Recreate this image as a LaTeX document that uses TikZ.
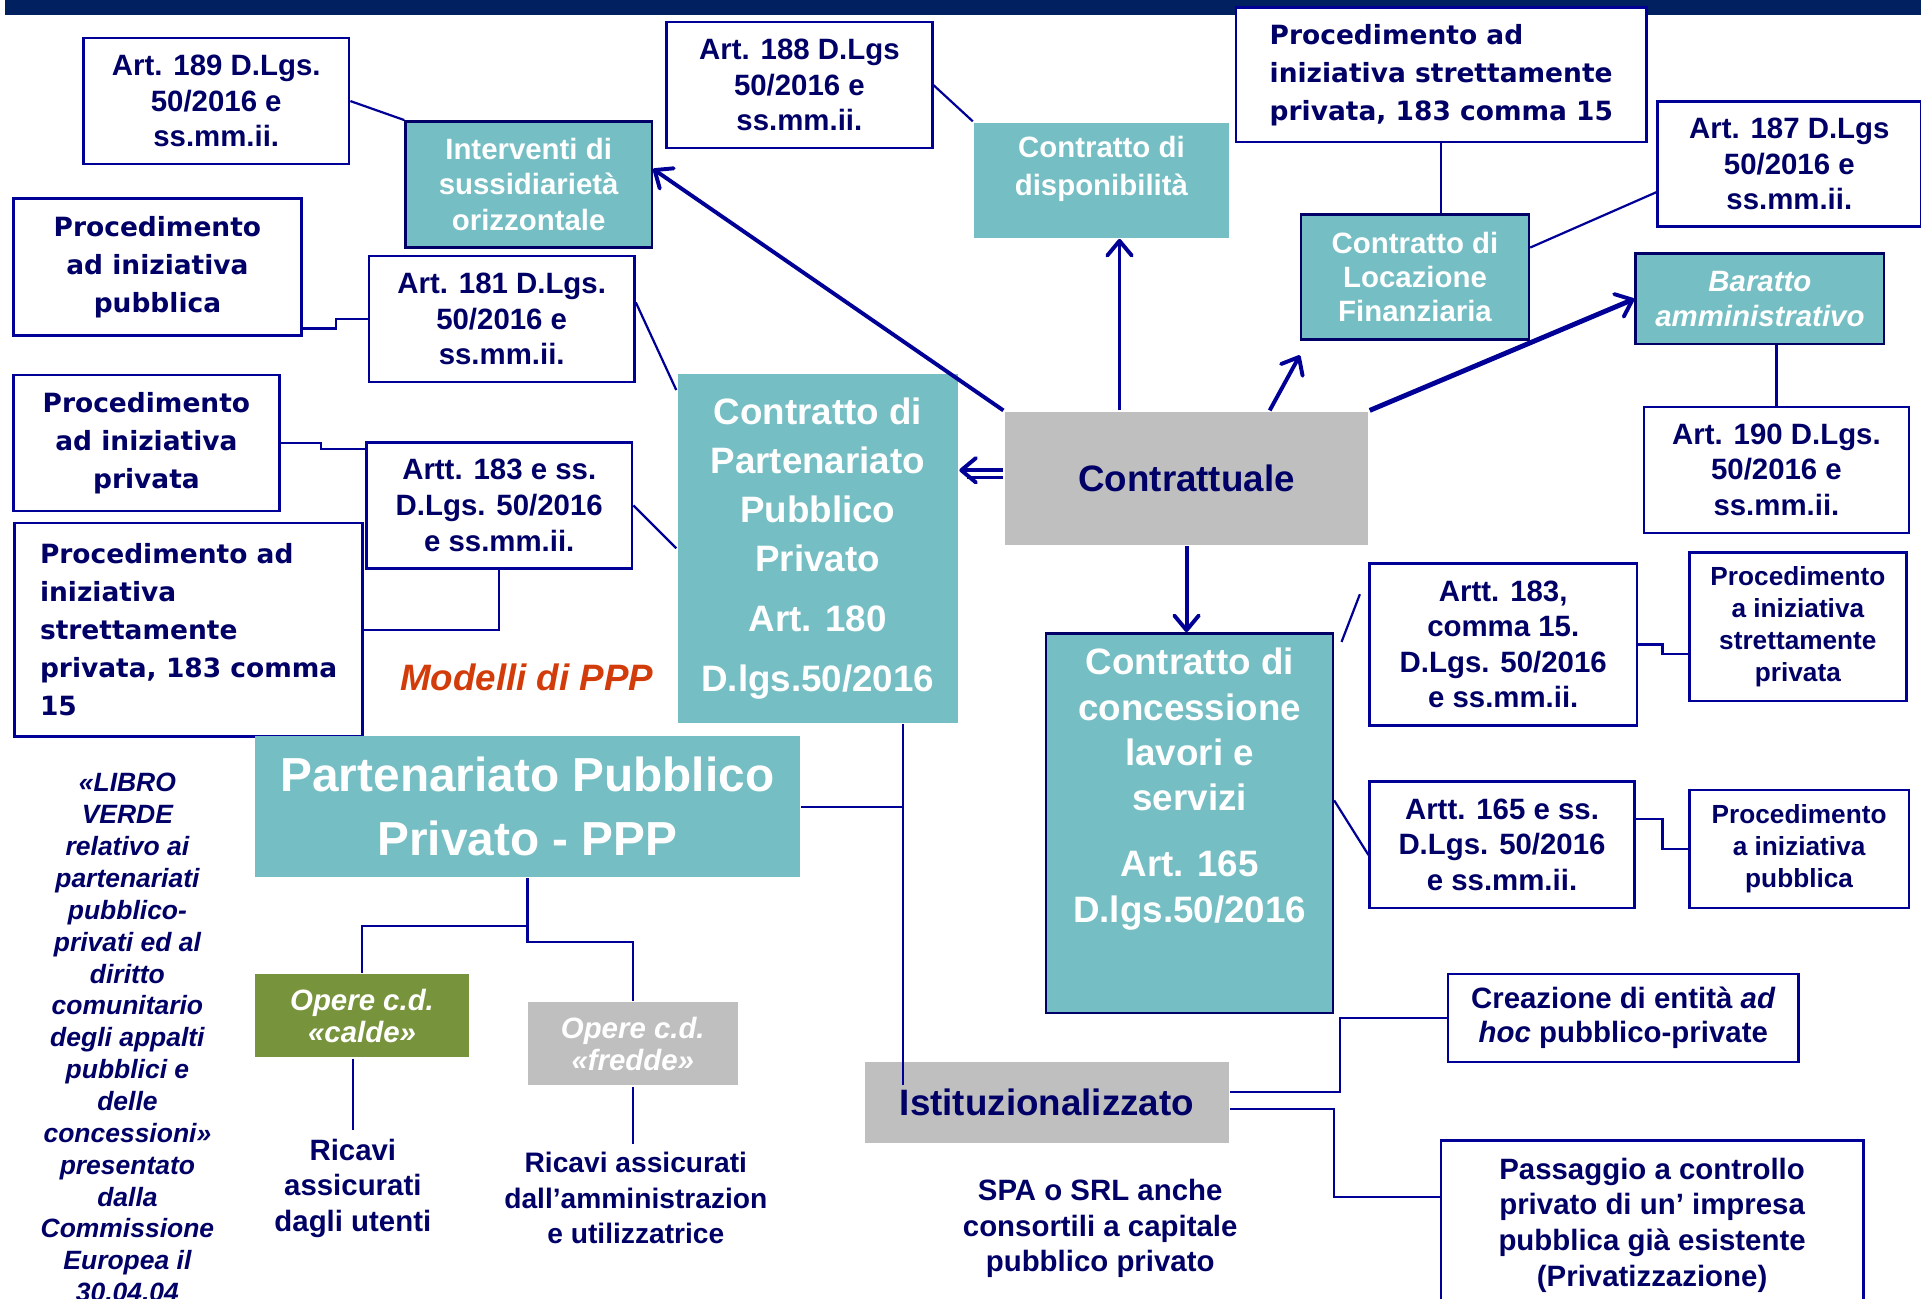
\documentclass[tikz,border=0pt]{standalone}
\usepackage{fontspec}
\setmainfont{Liberation Sans}
\newfontfamily\dvs{DejaVu Sans}
\usetikzlibrary{arrows.meta,calc}
\definecolor{cteal}{RGB}{116,190,196}
\definecolor{ctext}{RGB}{0,0,102}
\definecolor{cline}{RGB}{0,0,150}
\definecolor{cbar}{RGB}{0,32,96}
\definecolor{cgray}{RGB}{191,191,191}
\definecolor{colive}{RGB}{119,147,60}
\definecolor{cred}{RGB}{210,60,10}
\begin{document}
\begin{tikzpicture}[x=0.5pt,y=-0.5pt,
 box/.style={anchor=north west, inner sep=0pt, align=center, line width=1pt},
 artbox/.style={box, draw=cline, fill=white, text=ctext, font=\bfseries\fontsize{12}{14.5}\selectfont},
 procbox/.style={box, draw=cline, fill=white, text=ctext, font=\dvs\bfseries\fontsize{10.8}{15.5}\selectfont},
 tealb/.style={box, draw=ctext, fill=cteal, text=white, font=\bfseries\fontsize{12}{14.5}\selectfont},
 tealn/.style={box, fill=cteal, text=white},
 grayb/.style={box, fill=cgray, text=ctext, font=\bfseries\fontsize{15}{18}\selectfont},
 conn/.style={draw=cline, line width=0.9pt},
 arr/.style={draw=cline, line width=1.6pt, -{Straight Barb[length=6pt,width=10pt,line width=1.6pt,round]}},
 plain/.style={text=ctext, align=center, font=\bfseries\fontsize{12}{14.5}\selectfont},
]
\useasboundingbox (0,0) rectangle (1568,1060);
\fill[cbar] (4,0) rectangle (1568,12);

% top row
\node[artbox, minimum width=108.5pt, minimum height=51.5pt] (a189) at (67,30) {Art. 189 D.Lgs.\\50/2016 e\\ss.mm.ii.};
\node[tealb, minimum width=100.5pt, minimum height=51.5pt] (interv) at (330,98) {Interventi di\\sussidiarietà\\orizzontale};
\node[artbox, minimum width=108.5pt, minimum height=51.5pt] (a188) at (543,17) {Art. 188 D.Lgs\\50/2016 e\\ss.mm.ii.};
\node[tealn, font=\bfseries\fontsize{12}{15.5}\selectfont] (dispon) at (794,99) {\parbox[c][47pt][c]{104pt}{\centering Contratto di\\disponibilità\par\vspace{9pt}}};
\node[procbox, align=left, minimum width=167.5pt, minimum height=55pt] (proctop) at (1008,5) {Procedimento ad\\iniziativa strettamente\\privata, 183 comma 15};
\node[tealb, font=\bfseries\fontsize{12}{14}\selectfont, minimum width=93pt, minimum height=51pt] (locaz) at (1061,174) {Contratto di\\Locazione\\Finanziaria};
\node[artbox, minimum width=107.5pt, minimum height=51pt] (a187) at (1352,82) {Art. 187 D.Lgs\\50/2016 e\\ss.mm.ii.};
\node[tealb, font=\bfseries\itshape\fontsize{12}{14.5}\selectfont, minimum width=101.5pt, minimum height=37pt] (baratto) at (1334,206) {Baratto\\amministrativo};
\node[artbox, minimum width=108pt, minimum height=51.5pt] (a190) at (1341,331) {Art. 190 D.Lgs.\\50/2016 e\\ss.mm.ii.};

% left column
\node[procbox, minimum width=117.5pt, minimum height=56pt] (procpub) at (10,161) {Procedimento\\ad iniziativa\\pubblica};
\node[artbox, minimum width=108.5pt, minimum height=51.5pt] (a181) at (300,208) {Art. 181 D.Lgs.\\50/2016 e\\ss.mm.ii.};
\node[procbox, minimum width=108.5pt, minimum height=55.5pt] (procpriv) at (10,305) {Procedimento\\ad iniziativa\\privata};
\node[artbox, minimum width=108.5pt, minimum height=51.5pt] (a183) at (298,360) {Artt. 183 e ss.\\D.Lgs. 50/2016\\e ss.mm.ii.};
\node[procbox, align=left, minimum width=142pt, minimum height=87pt] (procstr) at (11,426) {Procedimento ad\\iniziativa\\strettamente\\privata, 183 comma\\15};
\node[text=cred, font=\bfseries\itshape\fontsize{15}{18}\selectfont] (modelli) at (430,553) {Modelli di PPP};

% centre
\node[tealn, font=\bfseries\fontsize{15}{20}\selectfont, minimum width=114.5pt, minimum height=142.5pt] (cppp) at (552,304) {Contratto di\\Partenariato\\Pubblico\\Privato\\[4.5pt]Art. 180\\[4.5pt]D.lgs.50/2016};
\node[grayb, minimum width=148.5pt, minimum height=54.5pt] (contr) at (819,335) {Contrattuale};
\node[tealb, font=\bfseries\fontsize{15}{18.5}\selectfont] (conc) at (853,516) {\parbox[c][155pt][c]{117pt}{\centering Contratto di\\concessione\\lavori e\\servizi\\[8.5pt]Art. 165\\D.lgs.50/2016\par\vspace{28pt}}};

% right column
\node[artbox, minimum width=109pt, minimum height=66pt] (a183c) at (1117,459) {Artt. 183,\\comma 15.\\D.Lgs. 50/2016\\e ss.mm.ii.};
\node[artbox, font=\bfseries\fontsize{10.7}{13}\selectfont, minimum width=88.5pt, minimum height=60.5pt] (procsp) at (1378,450) {Procedimento\\a iniziativa\\strettamente\\privata};
\node[artbox, minimum width=108pt, minimum height=51.5pt] (a165) at (1117,637) {Artt. 165 e ss.\\D.Lgs. 50/2016\\e ss.mm.ii.};
\node[artbox, font=\bfseries\fontsize{10.7}{13}\selectfont, minimum width=89.5pt, minimum height=48pt] (procap) at (1378,644) {Procedimento\\a iniziativa\\pubblica};

% bottom left
\node[tealn, font=\bfseries\fontsize{19.5}{26}\selectfont, minimum width=222.5pt, minimum height=57.5pt] (ppp) at (207,600) {Partenariato Pubblico\\Privato - PPP};
\node[box, fill=colive, text=white, font=\bfseries\itshape\fontsize{12}{13}\selectfont, minimum width=87.5pt, minimum height=34pt] (calde) at (207,794) {Opere c.d.\\«calde»};
\node[box, fill=cgray, text=white, font=\bfseries\itshape\fontsize{12}{13}\selectfont, minimum width=85.5pt, minimum height=34pt] (fredde) at (430,817) {Opere c.d.\\«fredde»};
\node[plain] (ric1) at (288,970) {Ricavi\\assicurati\\dagli utenti};
\node[plain, font=\bfseries\fontsize{11.5}{14.5}\selectfont] (ric2) at (519,978) {Ricavi assicurati\\dall’amministrazion\\e utilizzatrice};
\node[plain, font=\bfseries\itshape\fontsize{10.8}{13}\selectfont] (libro) at (104,847) {«LIBRO\\VERDE\\relativo ai\\partenariati\\pubblico-\\privati ed al\\diritto\\comunitario\\degli appalti\\pubblici e\\delle\\concessioni»\\presentato\\dalla\\Commissione\\Europea il\\30.04.04};

% bottom right
\node[grayb, minimum width=148.5pt, minimum height=33pt] (istit) at (705,866) {Istituzionalizzato};
\node[plain] (spa) at (898,1003) {SPA o SRL anche\\consortili a capitale\\pubblico privato};
\node[artbox, font=\bfseries\fontsize{12}{14}\selectfont, minimum width=143pt, minimum height=36pt] (creaz) at (1181,794) {Creazione di entità \textit{ad}\\\textit{hoc} pubblico-private};
\node[artbox, minimum width=172.5pt, minimum height=69pt] (passag) at (1175,930) {Passaggio a controllo\\privato di un’ impresa\\pubblica già esistente\\(Privatizzazione)};

% thin connectors
\draw[conn] (a189.east) -- (interv.north west);
\draw[conn] (a188.east) -- (dispon.north west);
\draw[conn] (proctop.south) -- (proctop.south |- locaz.north);
\draw[conn] ($(locaz.north east)!0.27!(locaz.south east)$) -- ($(a187.north west)!0.72!(a187.south west)$);
\draw[conn] (a190.north |- baratto.south) -- (a190.north);
\draw[conn] ($(procpub.north east)!0.94!(procpub.south east)$) -- ++(27,0) |- (a181.west);
\draw[conn] ($(a181.north east)!0.37!(a181.south east)$) -- ($(cppp.north west)!0.05!(cppp.south west)$);
\draw[conn] (procpriv.east) -- ++(33,0) |- ($(a183.north west)!0.06!(a183.south west)$);
\draw[conn] (a183.east) -- (cppp.west);
\draw[conn] (a183.south) |- (procstr.east);
\draw[conn] ($(conc.north east)+(6,8)$) -- ($(a183c.north west)+(-7,26)$);
\draw[conn] ($(conc.north east)!0.44!(conc.south east)$) -- ($(a165.north west)!0.58!(a165.south west)$);
\draw[conn] ($(a183c.north east)!0.5!(a183c.south east)$) -- ++(20,0) |- ($(procsp.north west)!0.68!(procsp.south west)$);
\draw[conn] ($(a165.north east)!0.3!(a165.south east)$) -- ++(22,0) |- (procap.west);
\draw[conn] (ppp.south) -- ++(0,39) -| (calde.north);
\draw[conn] (ppp.south) -- ++(0,52) -| (fredde.north);
\draw[conn] (calde.south -| ric1.north) -- (ric1.north);
\draw[conn] (fredde.south) -- (fredde.south |- ric2.north);
\coordinate (jn) at ($(cppp.south east)+(-46,0)$);
\draw[conn] (jn) -- (jn |- ppp.east);
\draw[conn] (ppp.east) -- (jn |- ppp.east) -- (jn |- istit.north) -- ++(0,20);
\draw[conn] ($(istit.east)+(0,-9)$) -- ++(90,0) |- (creaz.west);
\draw[conn] ($(istit.east)+(0,5)$) -- ++(85,0) |- ($(passag.north west)+(0,47)$);

% thick arrows
\draw[arr] (contr.north west) -- ($(interv.north east)!0.38!(interv.south east)$);
\draw[arr] ($(contr.north west)!0.317!(contr.north east)$) coordinate (cu) -- (cu |- dispon.south);
\draw[arr] ($(contr.north west)!0.727!(contr.north east)$) -- ($(locaz.south west)+(0,12)$);
\draw[arr, line width=2pt] (contr.north east) -- (baratto.west);
\draw[arr] ($(contr.north west)!0.44!(contr.south west)$) coordinate (cl) -- (cl -| cppp.east);
\draw[conn, line width=1.2pt] ($(cl)+(0,6)$) -- ($(cppp.east |- cl)+(6,6)$);
\draw[arr] (contr.south) -- (contr.south |- conc.north);
\end{tikzpicture}
\end{document}
